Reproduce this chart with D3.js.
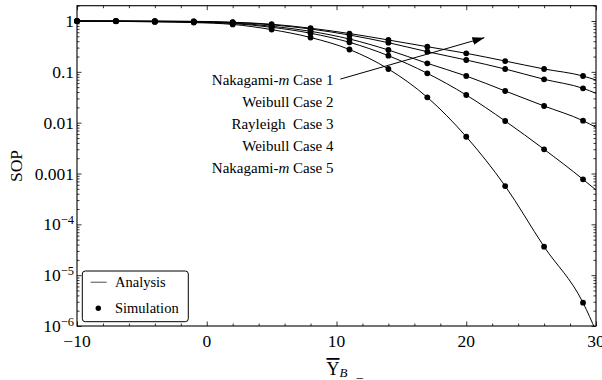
<!DOCTYPE html>
<html><head><meta charset="utf-8">
<script src="https://cdn.jsdelivr.net/npm/d3@7"></script>
<style>
body{margin:0;background:#fff}
svg{display:block}
text{font-family:"Liberation Serif","Times New Roman",serif;fill:#000}
</style></head><body><svg id="c" width="602" height="380"></svg>
<script>
// ---- data ----
const snrDb = [-10,-7,-4,-1,2,5,8,11,14,17,20,23,26,29];
const snrEnd = 30;
const caseLabels = ["Case 1","Case 2","Case 3","Case 4","Case 5"];
const casePrefix = ["Nakagami-","Weibull","Rayleigh ","Weibull","Nakagami-"];
const caseItalic = ["m","","","","m"];
const case1 = [1.0,0.999,0.995,0.986,0.947,0.865,0.722,0.567,0.423,0.312,0.2315,0.163,0.1138,0.0828];
const case2 = [0.999,0.998,0.991,0.978,0.934,0.842,0.696,0.530,0.374,0.249,0.1709,0.1137,0.0713,0.0474];
const case3 = [0.998,0.995,0.982,0.964,0.913,0.790,0.627,0.442,0.269,0.147,0.0828,0.0420,0.02127,0.01093];
const case4 = [0.997,0.991,0.973,0.951,0.893,0.752,0.575,0.381,0.2077,0.0935,0.0350,0.01078,0.00299,0.000768];
const case5 = [0.995,0.986,0.960,0.930,0.857,0.677,0.474,0.275,0.1137,0.0315,0.00529,0.000567,3.63e-5,2.87e-6];
const analysisEnd = [0.069,0.0378,0.0081,0.000473,7.96e-7];
const yTickExps = [0,-1,-2,-3,-4,-5,-6];
const xTicksMajor = [-10,0,10,20,30];
const arrowFrom = [10.3,0.072];
const arrowTo = [21.4,0.47];
const legendItems = ["Analysis","Simulation"];

const seriesVals = [case1,case2,case3,case4,case5];

// ---- scales ----
const svg = d3.select("#c");
const L=77,R=596,T=5.7,B=326;
const x = d3.scaleLinear().domain([-10,30]).range([L,R]);
const y = d3.scaleLog().domain([1e-6,2]).range([B,T]);

svg.append("defs").append("clipPath").attr("id","clip")
  .append("rect").attr("x",L).attr("y",T).attr("width",R-L).attr("height",B-T);
svg.select("defs").append("marker").attr("id","arr")
  .attr("viewBox","0 0 12 8").attr("refX",12).attr("refY",4)
  .attr("markerWidth",12).attr("markerHeight",8).attr("markerUnits","userSpaceOnUse")
  .attr("orient","auto")
  .append("path").attr("d","M0,0L12,4L0,8Z").attr("fill","#000");

// ---- ticks ----
const xMinor = d3.range(-10,30.01,2).filter(v=>!xTicksMajor.includes(v));
const yMajor = yTickExps.map(e=>Math.pow(10,e));
const yMinor = [];
for(let e=-6;e<=0;e++){for(let k=2;k<=9;k++){const v=k*Math.pow(10,e); if(v<=2) yMinor.push(v);}}

function tickAxis(axisFn, scale, vals, size, tr){
  const g = svg.append("g").attr("transform",tr)
    .call(axisFn(scale).tickValues(vals).tickSize(size).tickFormat(""));
  g.select(".domain").remove();
  g.selectAll("line").attr("stroke","#000").attr("stroke-width",0.8);
}
tickAxis(d3.axisBottom,x,xTicksMajor,-4.5,`translate(0,${B})`);
tickAxis(d3.axisBottom,x,xMinor,-2.5,`translate(0,${B})`);
tickAxis(d3.axisTop,x,xTicksMajor,-4.5,`translate(0,${T})`);
tickAxis(d3.axisTop,x,xMinor,-2.5,`translate(0,${T})`);
tickAxis(d3.axisLeft,y,yMajor,-4.5,`translate(${L},0)`);
tickAxis(d3.axisLeft,y,yMinor,-2.5,`translate(${L},0)`);
tickAxis(d3.axisRight,y,yMajor,-4.5,`translate(${R},0)`);
tickAxis(d3.axisRight,y,yMinor,-2.5,`translate(${R},0)`);

// frame
svg.append("rect").attr("x",L).attr("y",T).attr("width",R-L).attr("height",B-T)
  .attr("fill","none").attr("stroke","#000").attr("stroke-width",1.1);

// tick labels
svg.append("g").selectAll("text").data(xTicksMajor).join("text")
  .attr("x",d=>x(d)).attr("y",B+20.5).attr("text-anchor","middle")
  .style("font-size","17.5px").text(d=>d3.format("")(d).replace("-","\u2212"));

const yl = svg.append("g").selectAll("text").data(yTickExps).join("text")
  .attr("x",74).attr("y",e=>y(Math.pow(10,e))+6).attr("text-anchor","end")
  .style("font-size","17.5px");
yl.each(function(e){
  const t=d3.select(this);
  if(e>=-3){ t.text(e===0?"1":"0."+"0".repeat(-e-1)+"1"); }
  else { t.append("tspan").text("10");
         t.append("tspan").attr("dy",-6).style("font-size","12.5px").text("\u2212"+(-e)); }
});

// axis titles
svg.append("text").attr("transform","translate(21.5,166) rotate(-90)")
  .attr("text-anchor","middle").style("font-size","17.5px").text("SOP");
const xt = svg.append("text").attr("x",326.5).attr("y",375).style("font-size","18px");
xt.append("tspan").style("text-decoration","overline").text("\u03A5");
xt.append("tspan").attr("dy",2).style("font-size","13px").style("font-style","italic").text("B");
xt.append("tspan").attr("x",356.5).style("font-size","13px").text("_");

// ---- series ----
const line = d3.line().x(d=>x(d[0])).y(d=>y(d[1])).curve(d3.curveMonotoneX);
const gl = svg.append("g").attr("clip-path","url(#clip)");
seriesVals.forEach((vals,i)=>{
  const pts = snrDb.map((s,j)=>[s,vals[j]]).concat([[snrEnd,analysisEnd[i]]]);
  gl.append("path").attr("d",line(pts)).attr("fill","none").attr("stroke","#000").attr("stroke-width",1);
});
seriesVals.forEach((vals)=>{
  svg.append("g").selectAll("circle").data(snrDb.map((s,j)=>[s,vals[j]])).join("circle")
    .attr("cx",d=>x(d[0])).attr("cy",d=>y(d[1])).attr("r",2.9).attr("fill","#000");
});

// case labels
const lab = svg.append("g").selectAll("text").data(caseLabels).join("text")
  .attr("x",333.5).attr("y",(d,i)=>85+i*21.9).attr("text-anchor","end")
  .style("font-size","15px").attr("xml:space","preserve").style("white-space","pre");
lab.each(function(d,i){
  const t=d3.select(this);
  t.append("tspan").text(casePrefix[i]);
  if(caseItalic[i]) t.append("tspan").style("font-style","italic").text(caseItalic[i]);
  t.append("tspan").text(" "+d);
});

// arrow
svg.append("line").attr("x1",x(arrowFrom[0])).attr("y1",y(arrowFrom[1]))
  .attr("x2",x(arrowTo[0])).attr("y2",y(arrowTo[1]))
  .attr("stroke","#000").attr("stroke-width",1).attr("marker-end","url(#arr)");

// legend
const lg = svg.append("g");
lg.append("rect").attr("x",82.3).attr("y",271).attr("width",106).attr("height",50.7).attr("rx",3)
  .attr("fill","#fff").attr("stroke","#000").attr("stroke-width",1);
lg.append("line").attr("x1",90.7).attr("x2",106.7).attr("y1",282.3).attr("y2",282.3)
  .attr("stroke","#777").attr("stroke-width",1.3);
lg.append("circle").attr("cx",98.3).attr("cy",308.3).attr("r",2.7).attr("fill","#000");
lg.selectAll("text").data(legendItems).join("text")
  .attr("x",115).attr("y",(d,i)=>287+i*26).style("font-size","14.5px").text(d=>d);
</script></body></html>
